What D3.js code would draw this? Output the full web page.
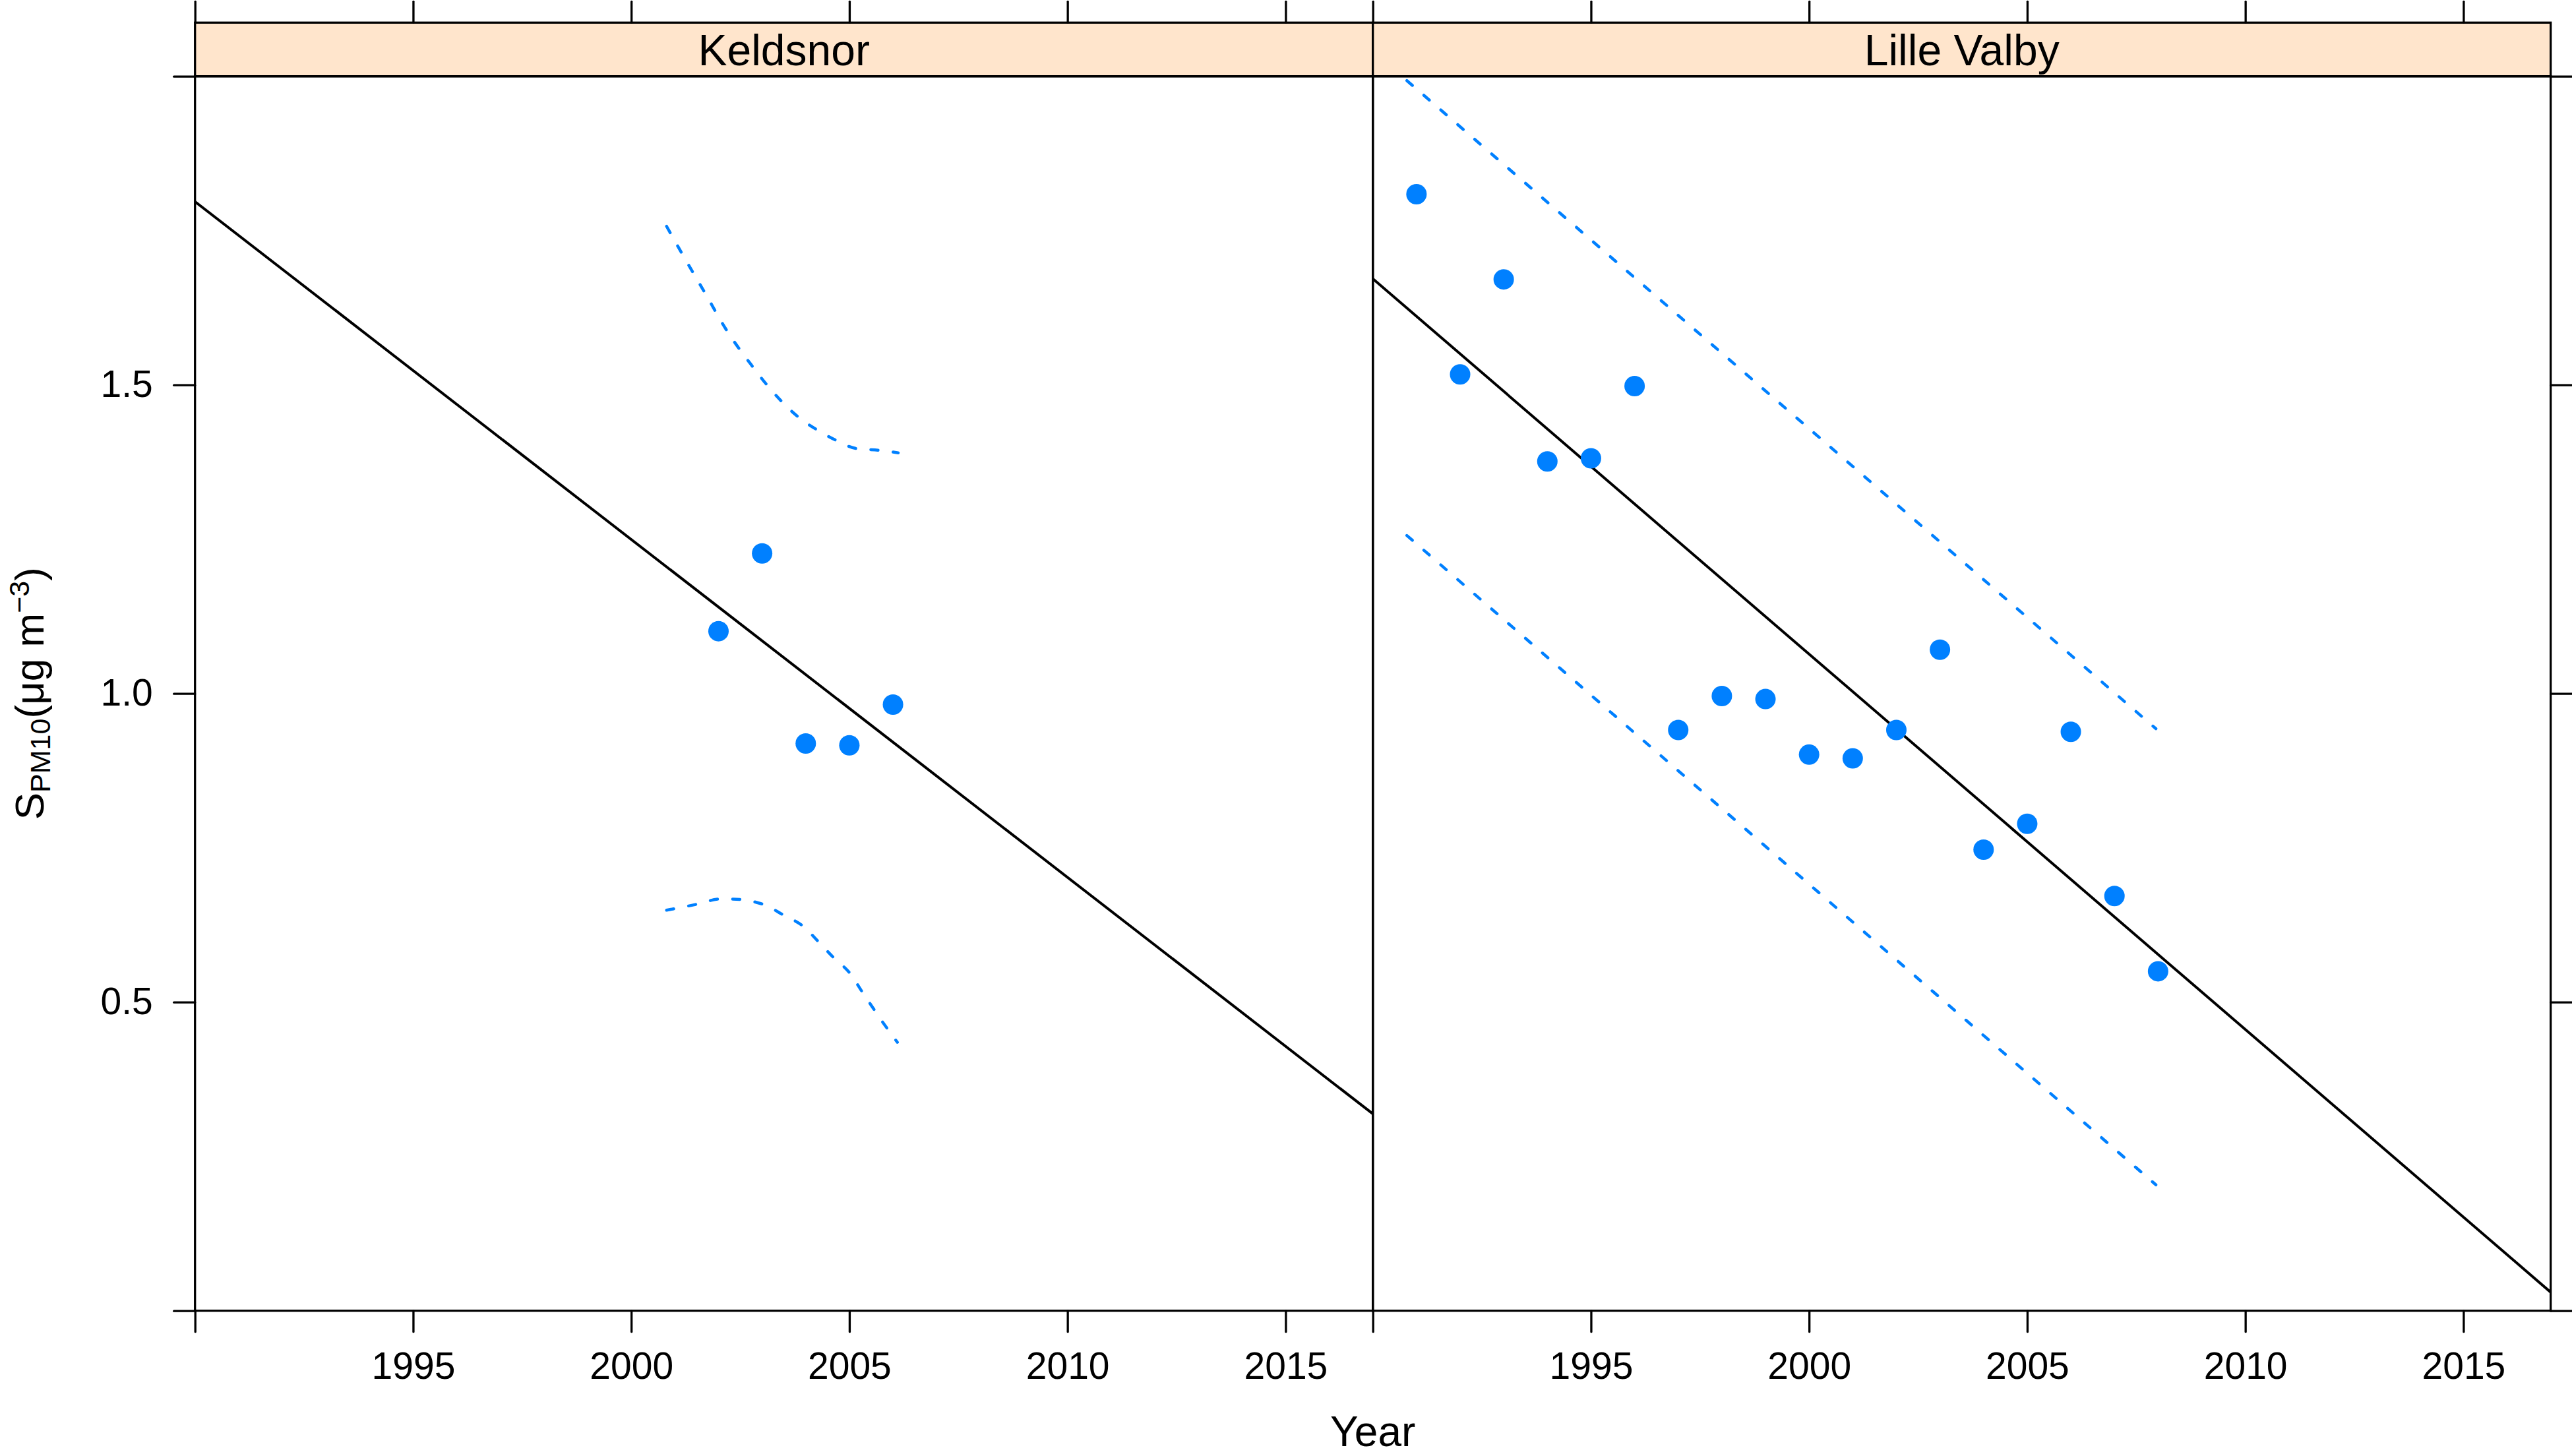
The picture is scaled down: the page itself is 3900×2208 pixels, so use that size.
<!DOCTYPE html>
<html>
<head>
<meta charset="utf-8">
<script src="https://cdn.jsdelivr.net/npm/d3@7"></script>
<style>
  body { margin: 0; background: #fff; }
  text { font-family: "Liberation Sans", Arial, Helvetica, sans-serif; fill: #000; }
</style>
</head>
<body>
<div id="chart-area"></div>
<script>
// panels
const PANELS = ["Keldsnor", "Lille Valby"]

// Keldsnor observations
const keldYears = [2002, 2003, 2004, 2005, 2006]
const keldValues = [1.101, 1.227, 0.919, 0.916, 0.982]
// Keldsnor fitted trend (value at 1990 and 2017)
const keldTrendYears = [1990, 2017]
const keldTrend = [1.797, 0.319]
// Keldsnor interval curves
const keldUpperYears = [2000.81, 2001.17, 2001.69, 2002.2, 2002.8, 2003.11, 2003.83, 2004.24, 2004.7, 2005.15, 2005.68, 2006.12]
const keldUpper = [1.757, 1.712, 1.649, 1.587, 1.528, 1.500, 1.448, 1.428, 1.410, 1.397, 1.394, 1.390]
const keldLowerYears = [2000.81, 2001.53, 2002.03, 2002.31, 2003.04, 2003.49, 2003.94, 2004.29, 2004.64, 2005.01, 2005.30, 2005.88, 2006.1]
const keldLower = [0.649, 0.659, 0.667, 0.667, 0.658, 0.641, 0.623, 0.598, 0.572, 0.547, 0.516, 0.456, 0.435]

// Lille Valby observations
const lilleYears = [1991, 1992, 1993, 1994, 1995, 1996, 1997, 1998, 1999, 2000, 2001, 2002, 2003, 2004, 2005, 2006, 2007, 2008]
const lilleValues = [1.809, 1.517, 1.671, 1.376, 1.381, 1.498, 0.941, 0.996, 0.991, 0.901, 0.895, 0.941, 1.071, 0.747, 0.789, 0.938, 0.672, 0.550]
const lilleTrendYears = [1990, 2017]
const lilleTrend = [1.672, 0.030]
const lilleBandYears = [1990.78, 2007.95]
const lilleUpper = [1.993, 0.943]
const lilleLower = [1.256, 0.204]

// axes
const X_DOMAIN = [1990, 2017]
const Y_DOMAIN = [0, 2]
const xTicks = [1990, 1995, 2000, 2005, 2010, 2015]
const xTickLabels = ["", "1995", "2000", "2005", "2010", "2015"]
const yTicks = [0, 0.5, 1, 1.5, 2]
const yTickLabels = ["", "0.5", "1.0", "1.5", ""]

const WIDTH = 3900, HEIGHT = 2208
const LEFT = 295.7, PANEL_W = 1786
const TOP = 115.7, BOTTOM = 1987.7
const STRIP_TOP = 34.3
const TICK = 32
const LW = 3.3
const BLUE = "#0080ff"

const svg = d3.select("#chart-area").append("svg")
  .attr("width", WIDTH)
  .attr("height", HEIGHT)

const yScale = d3.scaleLinear().domain(Y_DOMAIN).range([BOTTOM, TOP])

const zip = (xs, ys) => xs.map((x, i) => ({ x: x, y: ys[i] }))

const panelData = [
  {
    points: zip(keldYears, keldValues),
    trend: zip(keldTrendYears, keldTrend),
    bands: [zip(keldUpperYears, keldUpper), zip(keldLowerYears, keldLower)]
  },
  {
    points: zip(lilleYears, lilleValues),
    trend: zip(lilleTrendYears, lilleTrend),
    bands: [zip(lilleBandYears, lilleUpper), zip(lilleBandYears, lilleLower)]
  }
]

const styleAxis = g => {
  g.select(".domain").remove()
  g.selectAll(".tick line").attr("stroke", "#000").attr("stroke-width", LW).attr("stroke-linecap", "round")
  g.selectAll("text").style("font-size", "57px").attr("fill", "#000")
}

PANELS.forEach((name, i) => {
  const x0 = LEFT + i * PANEL_W
  const xScale = d3.scaleLinear().domain(X_DOMAIN).range([x0, x0 + PANEL_W])
  const d = panelData[i]

  svg.append("clipPath").attr("id", "clip" + i)
    .append("rect")
    .attr("x", x0).attr("y", TOP)
    .attr("width", PANEL_W).attr("height", BOTTOM - TOP)

  // STRIP
  svg.append("rect")
    .attr("x", x0).attr("y", STRIP_TOP)
    .attr("width", PANEL_W).attr("height", TOP - STRIP_TOP)
    .attr("fill", "#ffe5cc")
  svg.append("text")
    .attr("x", x0 + PANEL_W / 2)
    .attr("y", (STRIP_TOP + TOP) / 2)
    .attr("dy", "0.36em")
    .attr("text-anchor", "middle")
    .style("font-size", "66px")
    .text(name)

  const plot = svg.append("g").attr("clip-path", `url(#clip${i})`)

  // INTERVAL CURVES
  const line = d3.line().x(p => xScale(p.x)).y(p => yScale(p.y))
  const curve = d3.line().x(p => xScale(p.x)).y(p => yScale(p.y)).curve(d3.curveMonotoneX)
  plot.selectAll(".band")
    .data(d.bands)
    .enter().append("path")
    .attr("class", "band")
    .attr("d", curve)
    .attr("fill", "none")
    .attr("stroke", BLUE)
    .attr("stroke-width", 4.5)
    .attr("stroke-dasharray", "11,23")
    .attr("stroke-linecap", "round")

  // TREND
  plot.append("path")
    .attr("d", line(d.trend))
    .attr("fill", "none")
    .attr("stroke", "#000")
    .attr("stroke-width", 4)

  // POINTS
  plot.selectAll(".pt")
    .data(d.points)
    .enter().append("circle")
    .attr("class", "pt")
    .attr("cx", p => xScale(p.x))
    .attr("cy", p => yScale(p.y))
    .attr("r", 15.5)
    .attr("fill", BLUE)

  // X AXES
  svg.append("g")
    .attr("transform", `translate(0,${BOTTOM})`)
    .call(d3.axisBottom(xScale).tickValues(xTicks).tickSize(TICK).tickPadding(31)
      .tickFormat((t, j) => xTickLabels[j]))
    .call(styleAxis)
  svg.append("g")
    .attr("transform", `translate(0,${STRIP_TOP})`)
    .call(d3.axisTop(xScale).tickValues(xTicks).tickSize(TICK).tickFormat(""))
    .call(styleAxis)

  // Y AXES
  if (i === 0) {
    svg.append("g")
      .attr("transform", `translate(${x0},0)`)
      .call(d3.axisLeft(yScale).tickValues(yTicks).tickSize(TICK).tickPadding(32)
        .tickFormat((t, j) => yTickLabels[j]))
      .call(styleAxis)
  } else {
    svg.append("g")
      .attr("transform", `translate(${x0 + PANEL_W},0)`)
      .call(d3.axisRight(yScale).tickValues(yTicks).tickSize(TICK).tickFormat(""))
      .call(styleAxis)
  }

  // BORDERS
  svg.append("rect")
    .attr("x", x0).attr("y", STRIP_TOP)
    .attr("width", PANEL_W).attr("height", TOP - STRIP_TOP)
    .attr("fill", "none").attr("stroke", "#000").attr("stroke-width", LW)
  svg.append("rect")
    .attr("x", x0).attr("y", TOP)
    .attr("width", PANEL_W).attr("height", BOTTOM - TOP)
    .attr("fill", "none").attr("stroke", "#000").attr("stroke-width", LW)
})

// AXIS TITLES
svg.append("text")
  .attr("x", LEFT + PANEL_W)
  .attr("y", 2193)
  .attr("text-anchor", "middle")
  .style("font-size", "64px")
  .text("Year")

const ylab = svg.append("text")
  .attr("transform", `translate(66,${(TOP + BOTTOM) / 2}) rotate(-90)`)
  .attr("text-anchor", "middle")
  .style("font-size", "62px")
ylab.append("tspan").text("S")
ylab.append("tspan").attr("dy", 10).style("font-size", "43px").text("PM10")
ylab.append("tspan").attr("dy", -10).text("(μg m")
ylab.append("tspan").attr("dy", -22).style("font-size", "43px").text("−3")
ylab.append("tspan").attr("dy", 22).text(")")
</script>
</body>
</html>
